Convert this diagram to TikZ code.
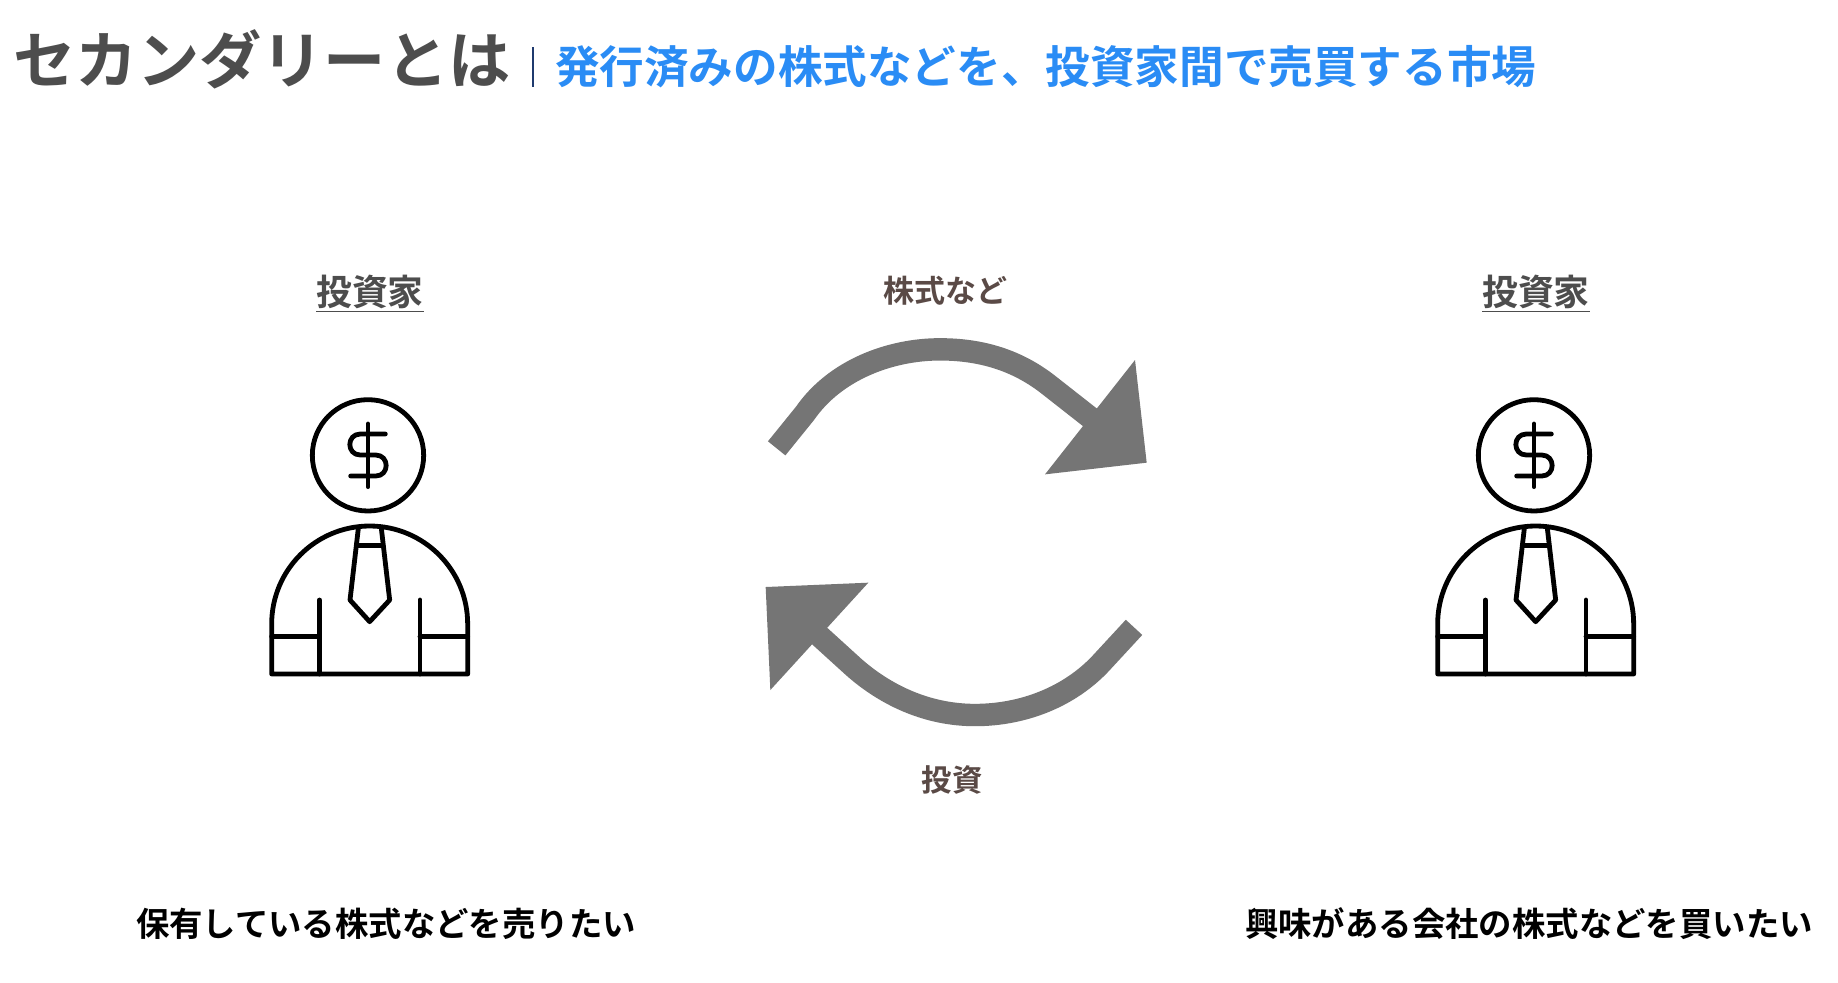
\documentclass[tikz,border=0pt]{standalone}
\usepackage{fontspec}
\newfontfamily\jp{Noto Sans CJK JP}[BoldFont={Noto Sans CJK JP Bold}]
\definecolor{titlegrey}{HTML}{4D4D4D}
\definecolor{subblue}{HTML}{2A8CF5}
\definecolor{sepnavy}{HTML}{1F3A6E}
\definecolor{flowgrey}{HTML}{757575}
\definecolor{flowtext}{HTML}{5A4A46}
\tikzset{
  px/.style={x=0.5pt,y=-0.5pt},
  zoomunits/.style={x=0.16667pt,y=-0.16667pt},
  txt/.style={inner sep=0,outer sep=0,font=\jp\bfseries},
  iconline/.style={draw=black,line width=2.4pt,line cap=round,line join=round},
  flowline/.style={draw=flowgrey,line width=11.2pt,line cap=butt,line join=round},
  flowhead/.style={fill=flowgrey,draw=none},
  investor/.pic={
    \draw[iconline] (384,226) circle[radius=167];
    \draw[iconline] (384,132) -- (384,320);
    \draw[iconline] (436,162) -- (361,162) .. controls (319,162) and (319,225) .. (361,225)
      -- (407,225) .. controls (449,225) and (449,288) .. (407,288) -- (332,288);
    \draw[iconline] (95,882) -- (95,732) arc[start angle=180,end angle=360,radius=294] -- (683,882) -- cycle;
    \draw[iconline] (355,445) -- (330,660) -- (389,725) -- (449,660) -- (424,445);
    \draw[iconline] (353,497) -- (426,497);
    \draw[iconline] (238,660) -- (238,882);
    \draw[iconline] (540,660) -- (540,882);
    \draw[iconline] (95,770) -- (238,770);
    \draw[iconline] (540,770) -- (683,770);
  }
}
\begin{document}
\begin{tikzpicture}[px]
\useasboundingbox (0,0) rectangle (1838,982);
\fill[white] (0,0) rectangle (1838,982);
\node[txt,anchor=west,text=titlegrey,font=\jp\bfseries\fontsize{31.1}{36}\selectfont] (title) at (13,59) {セカンダリーとは};
\coordinate (septop) at (533,47);
\coordinate (sepbot) at (533,87);
\draw[sepnavy,line width=0.9pt] (septop) -- (sepbot);
\node[txt,anchor=west,text=subblue,font=\jp\bfseries\fontsize{22.3}{27}\selectfont] (sub) at (555,67) {発行済みの株式などを、投資家間で売買する市場};
\node[txt,text=titlegrey,font=\jp\bfseries\fontsize{17.9}{22}\selectfont] (invL) at (370,294) {\underline{投資家}};
\node[txt,text=titlegrey,font=\jp\bfseries\fontsize{17.9}{22}\selectfont] (invR) at (1536,294) {\underline{投資家}};
\node[txt,text=flowtext,font=\jp\bfseries\fontsize{15.5}{20}\selectfont] (stock) at (945,291) {株式など};
\node[txt,text=flowtext,font=\jp\bfseries\fontsize{15.2}{20}\selectfont] (money) at (952,780) {投資};
\node[txt,text=black,font=\jp\bfseries\fontsize{16.7}{21}\selectfont] (wantL) at (386,924) {保有している株式などを売りたい};
\node[txt,text=black,font=\jp\bfseries\fontsize{16.7}{21}\selectfont] (wantR) at (1529,924) {興味がある会社の株式などを買いたい};
\begin{scope}[shift={(240,380)}]
  \pic[zoomunits] at (0,0) {investor};
\end{scope}
\begin{scope}[shift={(1406,380)}]
  \pic[zoomunits] at (0,0) {investor};
\end{scope}
\begin{scope}[shift={(740,320)},zoomunits]
  \coordinate (upS) at (110,385);
  \coordinate (upE) at (1060,300);
  \coordinate (loS) at (1182,922);
  \coordinate (loE) at (230,940);
  \fill[flowhead] (1185,120) -- (1220,428) -- (915,463) -- cycle;
  \draw[flowline] (upS) -- (195,280) .. controls (285,150) and (450,88) .. (600,88)
     .. controls (740,88) and (845,130) .. (930,198) -- (upE);
  \fill[flowhead] (385,788) -- (77,801) -- (91,1110) -- cycle;
  \draw[flowline] (loS) -- (1085,1027) .. controls (990,1130) and (850,1185) .. (705,1185)
     .. controls (555,1185) and (430,1120) .. (340,1040) -- (loE);
\end{scope}
\end{tikzpicture}
\end{document}
